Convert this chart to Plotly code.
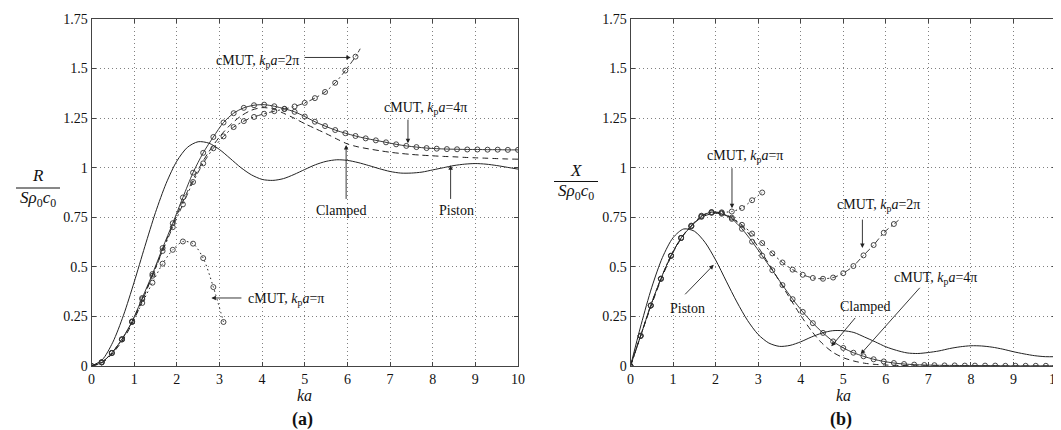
import plotly.graph_objects as go

# ---------------- data ----------------
ka_fine = [0.0, 0.25, 0.5, 0.75, 1.0, 1.25, 1.5, 1.75, 2.0, 2.25, 2.5, 2.75, 3.0, 3.25, 3.5, 3.75,
           4.0, 4.25, 4.5, 4.75, 5.0, 5.25, 5.5, 5.75, 6.0, 6.25, 6.5, 6.75, 7.0, 7.25, 7.5, 7.75,
           8.0, 8.25, 8.5, 8.75, 9.0, 9.25, 9.5, 9.75, 10.0]

ka_cmut = [0.000, 0.238, 0.476, 0.714, 0.952, 1.190, 1.429, 1.667, 1.905, 2.143, 2.381, 2.619,
           2.857, 3.095, 3.333, 3.571, 3.810, 4.048, 4.286, 4.524, 4.762, 5.000, 5.238, 5.476,
           5.714, 5.952, 6.190, 6.429, 6.667, 6.905, 7.143, 7.381, 7.619, 7.857, 8.095, 8.333,
           8.571, 8.810, 9.048, 9.286, 9.524, 9.762, 10.000]

# (a) normalized radiation resistance
R_piston = [0.0, 0.031, 0.120, 0.256, 0.423, 0.602, 0.774, 0.921, 1.033, 1.103, 1.131, 1.124,
            1.092, 1.047, 1.001, 0.964, 0.941, 0.936, 0.945, 0.966, 0.991, 1.015, 1.032, 1.040,
            1.037, 1.026, 1.011, 0.995, 0.981, 0.973, 0.973, 0.978, 0.989, 1.000, 1.011, 1.018,
            1.021, 1.018, 1.011, 1.002, 0.993]
R_clamped = [0.0, 0.016, 0.065, 0.136, 0.235, 0.360, 0.495, 0.630, 0.760, 0.880, 0.990, 1.080,
             1.155, 1.215, 1.260, 1.290, 1.303, 1.297, 1.275, 1.250, 1.222, 1.197, 1.172, 1.145,
             1.120, 1.105, 1.095, 1.086, 1.078, 1.072, 1.067, 1.063, 1.060, 1.057, 1.055, 1.052,
             1.050, 1.048, 1.046, 1.044, 1.043]
R_4pi = [0.0, 0.018, 0.066, 0.135, 0.225, 0.343, 0.464, 0.595, 0.720, 0.850, 0.975, 1.075,
         1.155, 1.228, 1.275, 1.302, 1.315, 1.318, 1.310, 1.297, 1.282, 1.258, 1.232, 1.210,
         1.190, 1.174, 1.160, 1.148, 1.138, 1.128, 1.118, 1.110, 1.104, 1.099, 1.096, 1.094,
         1.093, 1.092, 1.092, 1.091, 1.091, 1.090, 1.090]
ka_2pi = ka_cmut[:27] + [6.30]
R_2pi = [0.0, 0.018, 0.065, 0.134, 0.223, 0.337, 0.455, 0.580, 0.700, 0.815, 0.928, 1.022,
         1.098, 1.158, 1.205, 1.235, 1.256, 1.272, 1.285, 1.296, 1.309, 1.327, 1.351, 1.382,
         1.428, 1.490, 1.560, 1.600]
ka_pi = ka_cmut[:14]
R_pi = [0.0, 0.019, 0.066, 0.134, 0.222, 0.318, 0.420, 0.516, 0.586, 0.628, 0.617, 0.544,
        0.398, 0.222]

# (b) normalized radiation reactance
X_piston = [0.0, 0.209, 0.397, 0.547, 0.647, 0.691, 0.680, 0.624, 0.535, 0.428, 0.323, 0.230,
            0.159, 0.116, 0.099, 0.104, 0.122, 0.146, 0.166, 0.178, 0.178, 0.169, 0.146, 0.122,
            0.097, 0.079, 0.066, 0.063, 0.068, 0.076, 0.088, 0.097, 0.102, 0.101, 0.095, 0.085,
            0.072, 0.061, 0.052, 0.047, 0.047]
X_clamped = [0.0, 0.160, 0.312, 0.453, 0.572, 0.662, 0.722, 0.758, 0.770, 0.760, 0.728, 0.675,
             0.600, 0.515, 0.428, 0.340, 0.255, 0.178, 0.115, 0.070, 0.042, 0.025, 0.014, 0.008,
             0.005, 0.003, 0.002, 0.001, 0.001, 0.001, 0.0, 0.0, 0.0, 0.0, 0.0, 0.0,
             0.0, 0.0, 0.0, 0.0, 0.0]
X_4pi = [0.0, 0.152, 0.305, 0.440, 0.556, 0.646, 0.705, 0.755, 0.776, 0.768, 0.742, 0.692,
         0.627, 0.556, 0.483, 0.408, 0.337, 0.273, 0.216, 0.167, 0.124, 0.091, 0.067, 0.049,
         0.034, 0.023, 0.015, 0.010, 0.007, 0.005, 0.004, 0.003, 0.003, 0.002, 0.002, 0.002,
         0.002, 0.001, 0.001, 0.001, 0.001, 0.001, 0.001]
X_2pi = [0.0, 0.152, 0.305, 0.440, 0.556, 0.646, 0.708, 0.758, 0.776, 0.772, 0.748, 0.712,
         0.668, 0.620, 0.568, 0.522, 0.486, 0.460, 0.444, 0.440, 0.446, 0.468, 0.504, 0.558,
         0.610, 0.672, 0.716, 0.735]
X_pi = [0.0, 0.152, 0.305, 0.440, 0.556, 0.646, 0.705, 0.752, 0.772, 0.775, 0.779, 0.797,
        0.836, 0.875]

y_ticks = [0, 0.25, 0.5, 0.75, 1, 1.25, 1.5, 1.75]
y_tick_text = ["0", "0.25", "0.5", "0.75", "1", "1.25", "1.5", "1.75"]
x_ticks = [0, 1, 2, 3, 4, 5, 6, 7, 8, 9, 10]

# ---------------- figure ----------------
W, H = 1061, 430
INK = "#222222"
SERIF = "Liberation Serif"

fig = go.Figure()


def add_line(x, y, xa, ya, dash, width=1.0):
    fig.add_trace(go.Scatter(x=x, y=y, mode="lines", xaxis=xa, yaxis=ya,
                             line=dict(color=INK, width=width, dash=dash, shape="spline",
                                       smoothing=0.8),
                             showlegend=False, hoverinfo="skip"))


def add_markers(x, y, xa, ya):
    fig.add_trace(go.Scatter(x=x, y=y, mode="markers", xaxis=xa, yaxis=ya,
                             marker=dict(symbol="circle-open", size=5, color="#333333",
                                         line=dict(width=0.9, color="#333333")),
                             showlegend=False, hoverinfo="skip"))


DASH = "6px,4px"
DASHDOT = "6px,3px,2px,3px"
DOT = "1.5px,3px"

for xa, ya, P, C, F4, F2, F1 in [("x", "y", R_piston, R_clamped, R_4pi, R_2pi, R_pi),
                                 ("x2", "y2", X_piston, X_clamped, X_4pi, X_2pi, X_pi)]:
    add_line(ka_fine, P, xa, ya, "solid")
    add_line(ka_fine, C, xa, ya, DASH)
    add_line(ka_cmut, F4, xa, ya, "solid", 0.9)
    add_markers(ka_cmut, F4, xa, ya)
    add_line(ka_2pi, F2, xa, ya, DASHDOT, 0.9)
    add_markers(ka_2pi[:27], F2[:27], xa, ya)
    add_line(ka_pi, F1, xa, ya, DOT, 1.0)
    add_markers(ka_pi, F1, xa, ya)

ydom = [1 - 358 / H, 1 - 11 / H]
axis_common = dict(showline=True, linecolor="#444444", linewidth=1, mirror="ticks",
                   ticks="inside", ticklen=4, tickcolor="#444444",
                   showgrid=True, gridcolor="#808080", griddash="1px,3px", gridwidth=1,
                   zeroline=False, tickfont=dict(family=SERIF, size=14, color="#111111"),
                   automargin=False)

fig.update_layout(
    width=W, height=H, margin=dict(l=0, r=0, t=0, b=0),
    paper_bgcolor="white", plot_bgcolor="white", showlegend=False,
    font=dict(family=SERIF, color="#111111"),
    xaxis=dict(domain=[83.5 / W, 510 / W], range=[0, 10], tickvals=x_ticks, anchor="y",
               **axis_common),
    yaxis=dict(domain=ydom, range=[0, 1.75], tickvals=y_ticks, ticktext=y_tick_text,
               anchor="x", **axis_common),
    xaxis2=dict(domain=[622.5 / W, 1048 / W], range=[0, 10], tickvals=x_ticks, anchor="y2",
                **axis_common),
    yaxis2=dict(domain=ydom, range=[0, 1.75], tickvals=y_ticks, ticktext=y_tick_text,
                anchor="x2", **axis_common),
)

ann = []
TF = dict(family=SERIF, size=14, color="#111111")


def label(xr, yr, x, y, text, xanchor="center", font=TF):
    ann.append(dict(xref=xr, yref=yr, x=x, y=y, text=text, showarrow=False,
                    xanchor=xanchor, yanchor="middle", font=font))


def arrow(xr, yr, hx, hy, tx, ty):
    ann.append(dict(xref=xr, yref=yr, axref=xr, ayref=yr, x=hx, y=hy, ax=tx, ay=ty,
                    text="", showarrow=True, arrowhead=2, arrowsize=1.0, arrowwidth=0.9,
                    arrowcolor=INK, standoff=0, startstandoff=0))


def cmut(n):
    return "cMUT, <i>k</i><sub>p</sub><i>a</i>=" + n

# panel (a)
label("x", "y", 4.92, 1.535, cmut("2π"), xanchor="right")
arrow("x", "y", 6.08, 1.556, 4.96, 1.556)
label("x", "y", 7.82, 1.30, cmut("4π"))
arrow("x", "y", 7.42, 1.124, 7.42, 1.25)
label("x", "y", 5.87, 0.786, "Clamped")
arrow("x", "y", 5.97, 1.114, 5.97, 0.835)
label("x", "y", 8.55, 0.786, "Piston")
arrow("x", "y", 8.42, 1.013, 8.42, 0.835)
label("x", "y", 3.62, 0.335, cmut("π"), xanchor="left")
arrow("x", "y", 2.81, 0.343, 3.55, 0.343)

# panel (b)
label("x2", "y2", 2.68, 1.055, cmut("π"))
arrow("x2", "y2", 2.385, 0.796, 2.385, 1.005)
label("x2", "y2", 5.82, 0.807, cmut("2π"))
arrow("x2", "y2", 5.45, 0.595, 5.45, 0.746)
label("x2", "y2", 7.17, 0.442, cmut("4π"))
arrow("x2", "y2", 5.41, 0.06, 6.83, 0.402)
label("x2", "y2", 5.52, 0.301, "Clamped")
arrow("x2", "y2", 4.72, 0.099, 5.31, 0.25)
label("x2", "y2", 1.35, 0.292, "Piston")
arrow("x2", "y2", 1.955, 0.51, 1.25, 0.354)

# axis titles and panel captions
for cx, cap in [(296.5, "(a)"), (835, "(b)")]:
    label("paper", "paper", cx / W, 1 - 387 / H, "<i>ka</i>",
          font=dict(family=SERIF, size=16, color="#111111"))
    label("paper", "paper", (cx - 2) / W, 1 - 411 / H, "<b>" + cap + "</b>",
          font=dict(family=SERIF, size=18, color="#111111"))

# y-axis fraction labels
FF = dict(family=SERIF, size=17, color="#111111")
shapes = []
for cx, num, yn, yl, yd in [(30, "R", 168, 180, 191), (568, "X", 163, 173.5, 184)]:
    label("paper", "paper", cx / W, 1 - yn / H, "<i>" + num + "</i>", font=FF)
    label("paper", "paper", cx / W, 1 - yd / H,
          "<i>Sρ</i><sub>0</sub><i>c</i><sub>0</sub>", font=FF)
    shapes.append(dict(type="line", xref="paper", yref="paper",
                       x0=(cx - 22) / W, x1=(cx + 22) / W, y0=1 - yl / H, y1=1 - yl / H,
                       line=dict(color="#111111", width=1)))

fig.update_layout(annotations=ann, shapes=shapes)
fig.write_html("out.html")
